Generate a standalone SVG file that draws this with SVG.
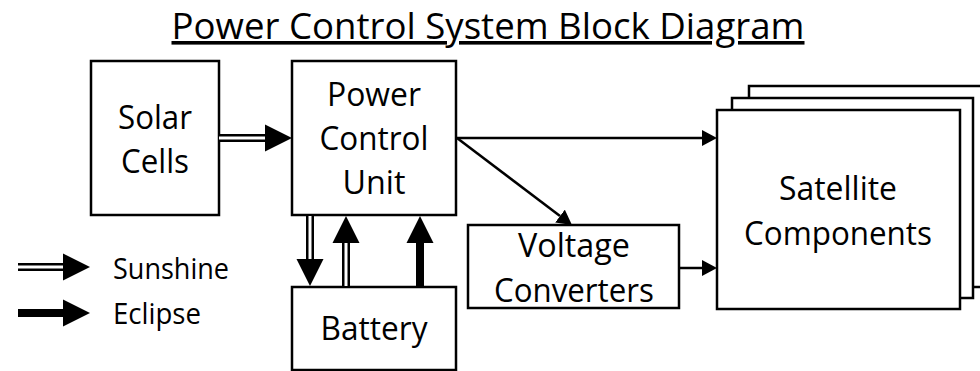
<svg xmlns="http://www.w3.org/2000/svg" width="980" height="371" viewBox="0 0 980 371">
  <style>
    .box { fill: #fff; stroke: #000; stroke-width: 2.5; }
    .t { font-family: "Open Sans", "Liberation Sans", sans-serif; fill: #000; text-anchor: middle; }
    .node { font-size: 32.5px; }
    .leg { font-size: 28.5px; text-anchor: start; }
    .title { font-size: 36px; text-decoration: underline; }
    .thin { stroke: #000; stroke-width: 2.5; fill: none; }
    .thick { stroke: #000; stroke-width: 8; fill: none; }
    .gap { stroke: #fff; stroke-width: 3; fill: none; }
  </style>
  <defs>
    <marker id="ah" markerUnits="userSpaceOnUse" markerWidth="16" markerHeight="16" refX="0" refY="8" orient="auto" viewBox="0 0 16 16">
      <path d="M0,0 L15,8 L0,16 z" fill="#000"/>
    </marker>
    <marker id="big" markerUnits="userSpaceOnUse" markerWidth="28" markerHeight="28" refX="0" refY="14" orient="auto" viewBox="0 0 28 28">
      <path d="M0,0.5 L27,14 L0,27.5 z" fill="#000"/>
    </marker>
  </defs>
  <rect width="980" height="371" fill="#fff"/>

  <text class="t title" x="488" y="39" textLength="633" lengthAdjust="spacingAndGlyphs">Power Control System Block Diagram</text>

  <g id="solar-cells">
    <rect class="box" x="91" y="61" width="128" height="154"/>
    <text class="t node" x="155" y="129" textLength="74" lengthAdjust="spacingAndGlyphs">Solar</text>
    <text class="t node" x="155" y="173" textLength="68" lengthAdjust="spacingAndGlyphs">Cells</text>
  </g>
  <g id="power-control-unit">
    <rect class="box" x="292" y="61" width="164" height="154"/>
    <text class="t node" x="374" y="106" textLength="94" lengthAdjust="spacingAndGlyphs">Power</text>
    <text class="t node" x="374" y="150" textLength="109" lengthAdjust="spacingAndGlyphs">Control</text>
    <text class="t node" x="374" y="194" textLength="63" lengthAdjust="spacingAndGlyphs">Unit</text>
  </g>
  <g id="battery">
    <rect class="box" x="292" y="287" width="164" height="83"/>
    <text class="t node" x="374" y="340" textLength="107" lengthAdjust="spacingAndGlyphs">Battery</text>
  </g>
  <g id="voltage-converters">
    <rect class="box" x="468" y="225" width="211" height="83"/>
    <text class="t node" x="574" y="257" textLength="112" lengthAdjust="spacingAndGlyphs">Voltage</text>
    <text class="t node" x="574" y="302" textLength="160" lengthAdjust="spacingAndGlyphs">Converters</text>
  </g>
  <g id="satellite-components">
    <rect class="box" x="749" y="86" width="243" height="201"/>
    <rect class="box" x="732" y="98" width="241" height="200"/>
    <rect class="box" x="717" y="110" width="243" height="199"/>
    <text class="t node" x="838" y="200" textLength="118" lengthAdjust="spacingAndGlyphs">Satellite</text>
    <text class="t node" x="838" y="245" textLength="188" lengthAdjust="spacingAndGlyphs">Components</text>
  </g>

  <g id="connectors">
    <!-- Solar -> PCU (sunshine) -->
    <line class="thick" x1="219" y1="138" x2="265" y2="138" marker-end="url(#big)"/>
    <line class="gap" x1="219" y1="138" x2="265" y2="138"/>
    <!-- PCU -> Battery (sunshine) -->
    <line class="thick" x1="310" y1="216" x2="310" y2="259" marker-end="url(#big)"/>
    <line class="gap" x1="310" y1="216" x2="310" y2="259"/>
    <!-- Battery -> PCU (sunshine) -->
    <line class="thick" x1="346" y1="286" x2="346" y2="243" marker-end="url(#big)"/>
    <line class="gap" x1="346" y1="286" x2="346" y2="243"/>
    <!-- Battery -> PCU (eclipse) -->
    <line class="thick" x1="420" y1="286" x2="420" y2="243" marker-end="url(#big)"/>
    <!-- PCU -> Satellite -->
    <line class="thin" x1="457" y1="138" x2="702" y2="138" marker-end="url(#ah)"/>
    <!-- PCU -> Voltage Converters -->
    <line class="thin" x1="457" y1="138" x2="560" y2="216" marker-end="url(#ah)"/>
    <!-- Voltage Converters -> Satellite -->
    <line class="thin" x1="680" y1="268" x2="702" y2="268" marker-end="url(#ah)"/>
  </g>

  <g id="legend">
    <line class="thick" x1="18" y1="267" x2="63" y2="267" marker-end="url(#big)"/>
    <line class="gap" x1="18" y1="267" x2="63" y2="267"/>
    <text class="t leg" x="113" y="279" textLength="116" lengthAdjust="spacingAndGlyphs">Sunshine</text>
    <line class="thick" x1="18" y1="313" x2="63" y2="313" marker-end="url(#big)"/>
    <text class="t leg" x="113" y="324" textLength="88" lengthAdjust="spacingAndGlyphs">Eclipse</text>
  </g>
</svg>
